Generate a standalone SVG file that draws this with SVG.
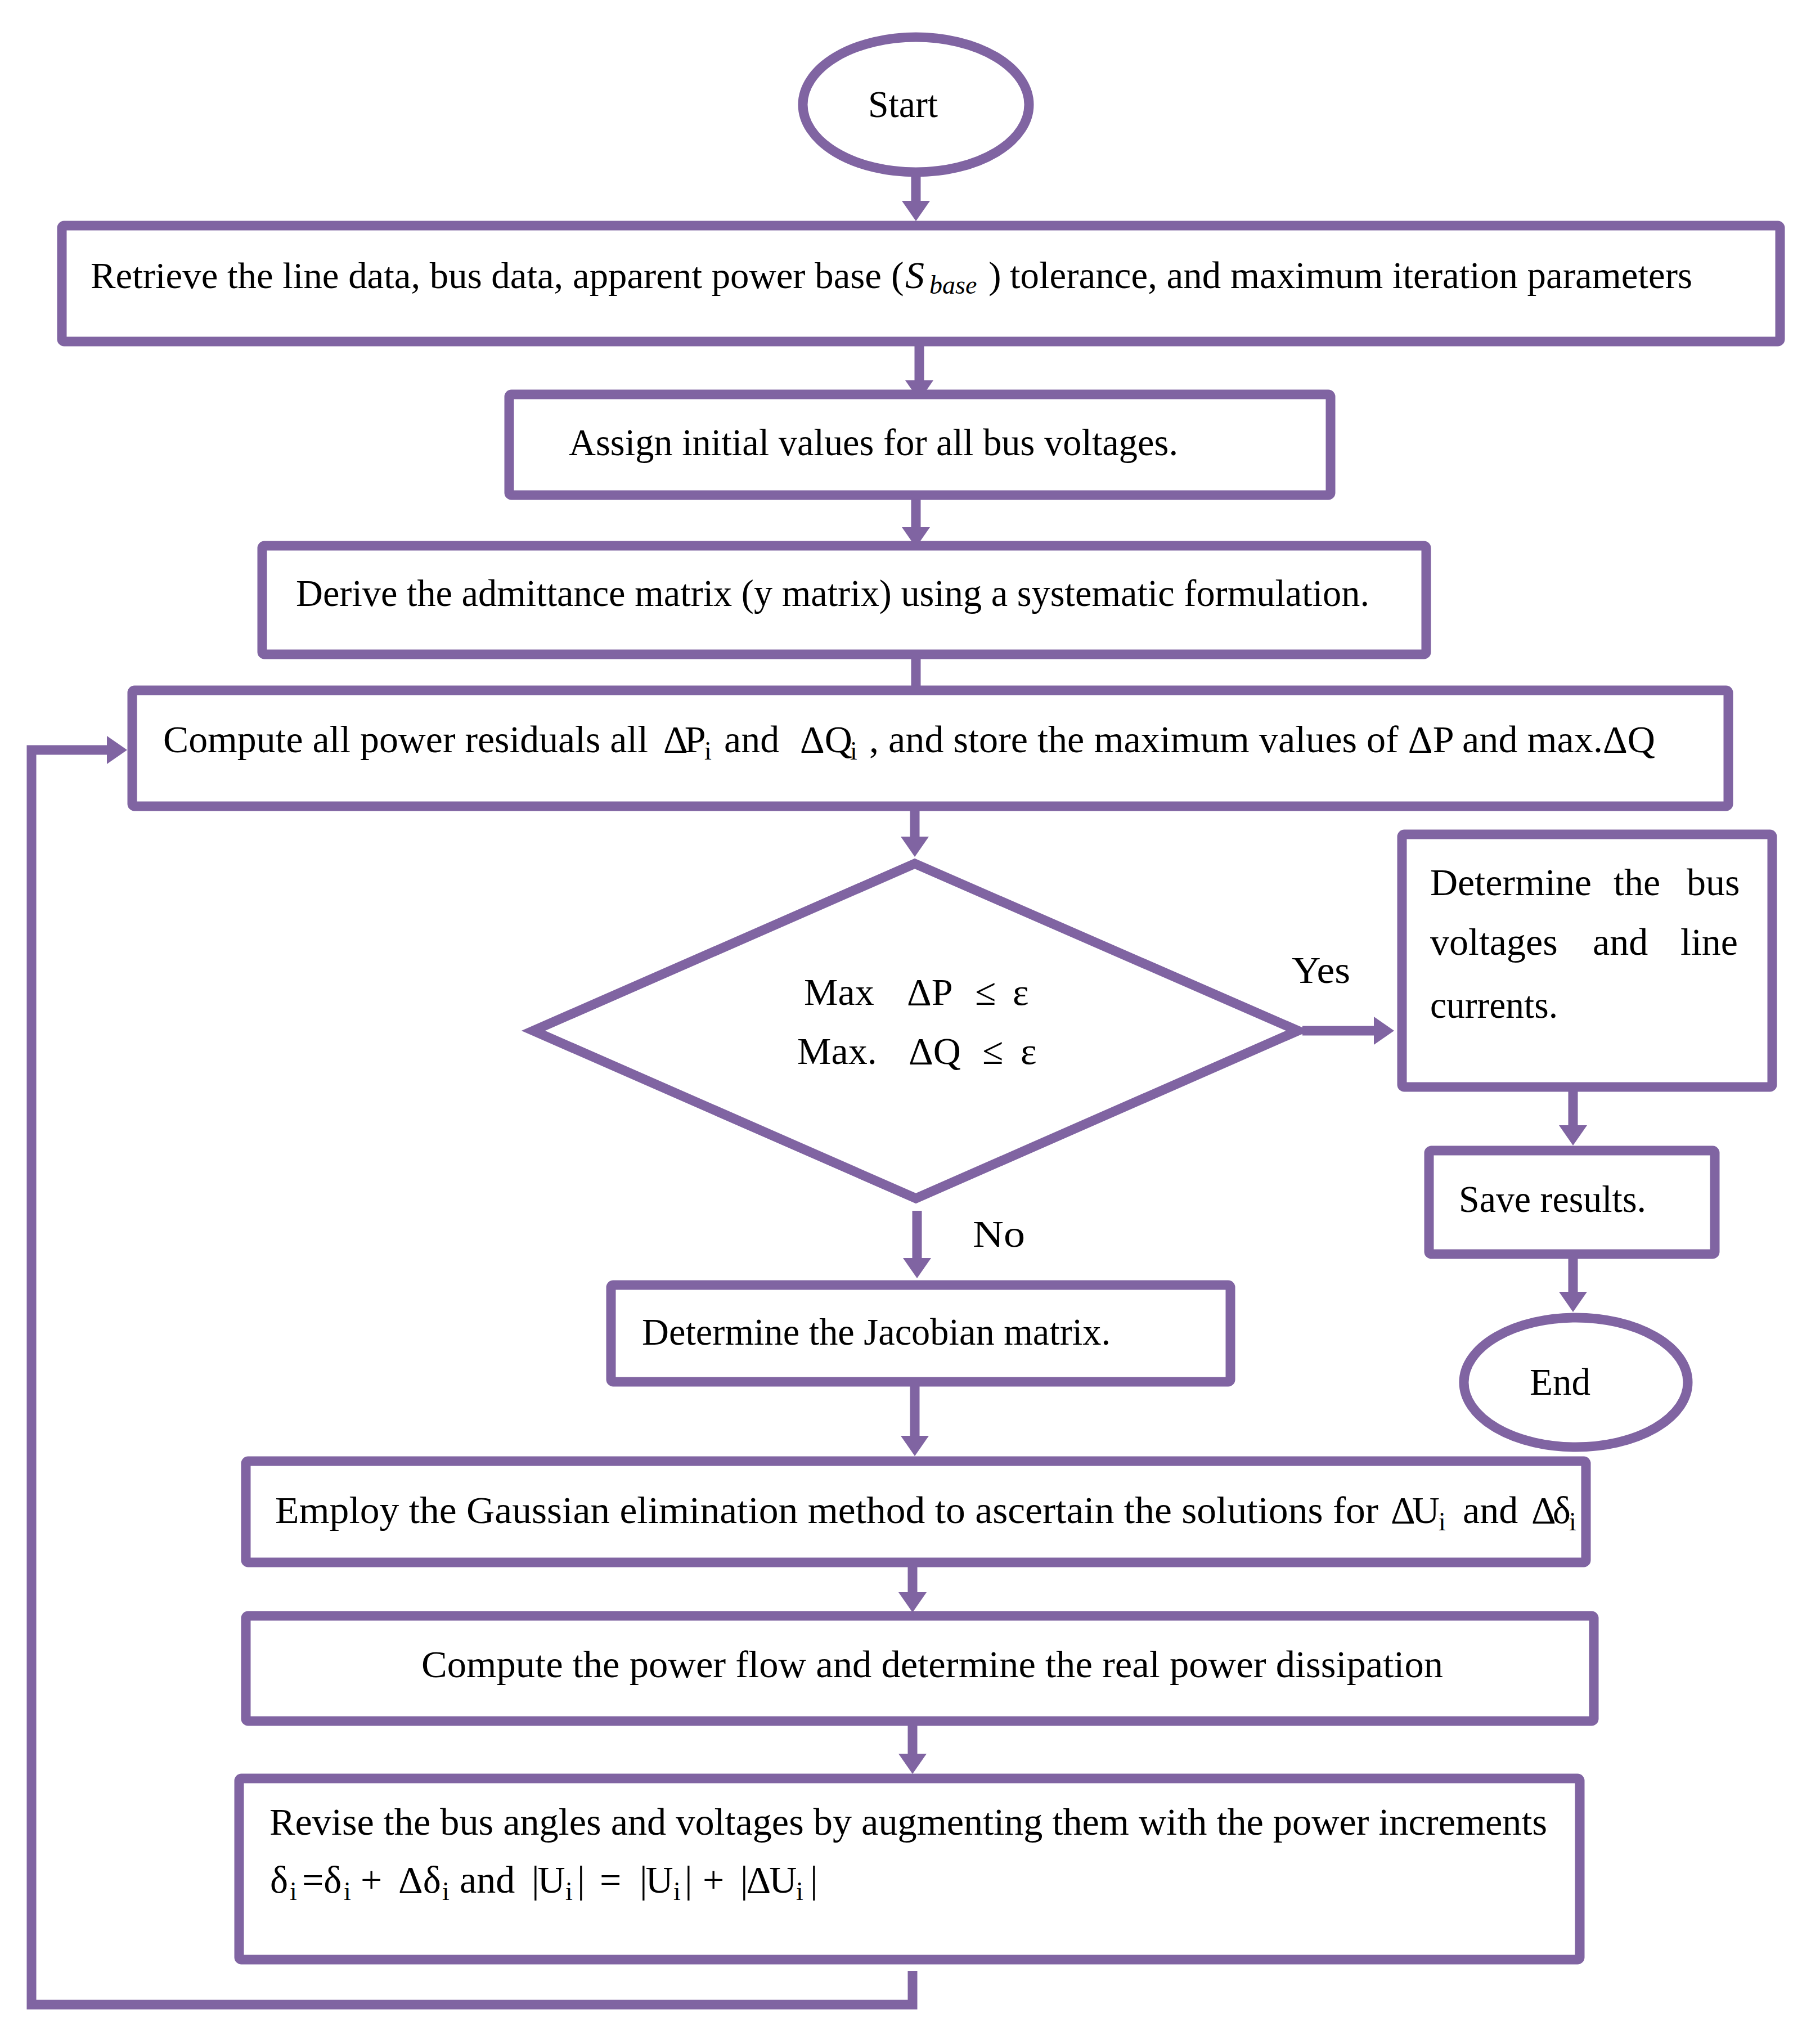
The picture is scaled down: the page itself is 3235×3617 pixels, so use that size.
<svg xmlns="http://www.w3.org/2000/svg" width="3235" height="3617" viewBox="0 0 3235 3617">
<defs>
<style>
.box{fill:#ffffff;stroke:#8064A2;stroke-width:17;}
.term{fill:#ffffff;stroke:#8064A2;stroke-width:17;}
.con{fill:none;stroke:#8064A2;stroke-width:17;stroke-linejoin:miter;}
.t{font-family:"Liberation Serif","Times New Roman",serif;font-size:68px;fill:#000000;}
.s{font-size:46px;}
.i{font-style:italic;}
.c{letter-spacing:-6px;}
.c2{letter-spacing:-3px;}
.n{font-size:65px;}
</style>
<marker id="ah" markerUnits="userSpaceOnUse" viewBox="0 0 36 50" refX="0" refY="25" markerWidth="36" markerHeight="50" orient="auto">
<path d="M0,0 L36,25 L0,50 Z" fill="#8064A2"/>
</marker>
</defs>
<rect width="3235" height="3617" fill="#ffffff"/>

<g id="connectors">
<path class="con" d="M1628,306 L1628,357" marker-end="url(#ah)"/>
<path class="con" d="M1634,607 L1634,676" marker-end="url(#ah)"/>
<path class="con" d="M1628,880 L1628,937" marker-end="url(#ah)"/>
<path class="con" d="M1628,1163 L1628,1227"/>
<path class="con" d="M1626,1433 L1626,1487" marker-end="url(#ah)"/>
<path class="con" d="M2315,1832 L2442,1832" marker-end="url(#ah)"/>
<path class="con" d="M2796,1932 L2796,2000" marker-end="url(#ah)"/>
<path class="con" d="M2796,2229 L2796,2296" marker-end="url(#ah)"/>
<path class="con" d="M1630,2152 L1630,2236" marker-end="url(#ah)"/>
<path class="con" d="M1626,2456 L1626,2552" marker-end="url(#ah)"/>
<path class="con" d="M1622,2770 L1622,2830" marker-end="url(#ah)"/>
<path class="con" d="M1622,3059 L1622,3117" marker-end="url(#ah)"/>
<path class="con" d="M1622,3503 L1622,3563 L56,3563 L56,1333 L190,1333" marker-end="url(#ah)"/>
<text class="t" x="2296" y="1747" textLength="104" lengthAdjust="spacingAndGlyphs">Yes</text>
<text class="t" x="1729" y="2216" textLength="93" lengthAdjust="spacingAndGlyphs">No</text>
</g>

<g id="start">
<ellipse class="term" cx="1628" cy="186" rx="201" ry="120"/>
<text class="t" x="1543" y="208" textLength="124" lengthAdjust="spacingAndGlyphs">Start</text>
</g>

<g id="retrieve">
<rect class="box" x="110" y="401" width="3054" height="206" rx="4"/>
<text class="t n" x="161" y="512" textLength="1406" lengthAdjust="spacingAndGlyphs">Retrieve the line data, bus data, apparent power base</text>
<text class="t" x="1584" y="512">(<tspan class="i" x="1609">S</tspan><tspan class="i s" x="1652" dy="10">base</tspan><tspan x="1757" dy="-10">)</tspan></text>
<text class="t" x="1795" y="512" textLength="1213" lengthAdjust="spacingAndGlyphs">tolerance, and maximum iteration parameters</text>
</g>

<g id="assign">
<rect class="box" x="905" y="701" width="1460" height="179" rx="4"/>
<text class="t" x="1011" y="809" textLength="1083" lengthAdjust="spacingAndGlyphs">Assign initial values for all bus voltages.</text>
</g>

<g id="derive">
<rect class="box" x="466" y="970" width="2069" height="193" rx="4"/>
<text class="t" x="526" y="1077" textLength="1908" lengthAdjust="spacingAndGlyphs">Derive the admittance matrix (y matrix) using a systematic formulation.</text>
</g>

<g id="compute-residuals">
<rect class="box" x="235" y="1227" width="2837" height="206" rx="4"/>
<text class="t" x="290" y="1337" textLength="862" lengthAdjust="spacingAndGlyphs">Compute all power residuals all</text>
<text class="t" x="1179" y="1337"><tspan class="c">ΔP</tspan><tspan class="s" x="1252" dy="13">i</tspan><tspan x="1287" dy="-13">and</tspan><tspan x="1422">ΔQ</tspan><tspan class="s" x="1511" dy="13">i</tspan></text>
<text class="t" x="1545" y="1337" textLength="1397" lengthAdjust="spacingAndGlyphs">, and store the maximum values of  ΔP and max.ΔQ</text>
</g>

<g id="decision">
<polygon class="box" points="1626,1535 2307,1832 1628,2130 948,1832"/>
<text class="t" x="1429" y="1786">Max<tspan x="1612">ΔP</tspan><tspan x="1733">≤</tspan><tspan x="1800">ε</tspan></text>
<text class="t" x="1417" y="1891">Max.<tspan x="1615">ΔQ</tspan><tspan x="1746">≤</tspan><tspan x="1814">ε</tspan></text>
</g>

<g id="determine-bus">
<rect class="box" x="2492" y="1483" width="658" height="449" rx="4"/>
<text class="t" x="2542" y="1591">Determine<tspan x="2868">the</tspan><tspan x="2998">bus</tspan></text>
<text class="t" x="2542" y="1697">voltages<tspan x="2831">and</tspan><tspan x="2987">line</tspan></text>
<text class="t" x="2542" y="1809" textLength="227" lengthAdjust="spacingAndGlyphs">currents.</text>
</g>

<g id="save">
<rect class="box" x="2540" y="2045" width="508" height="184" rx="4"/>
<text class="t" x="2593" y="2154" textLength="333" lengthAdjust="spacingAndGlyphs">Save results.</text>
</g>

<g id="end">
<ellipse class="term" cx="2801" cy="2457" rx="199" ry="115"/>
<text class="t" x="2719" y="2479" textLength="108" lengthAdjust="spacingAndGlyphs">End</text>
</g>

<g id="jacobian">
<rect class="box" x="1086" y="2284" width="1101" height="172" rx="4"/>
<text class="t" x="1141" y="2390" textLength="833" lengthAdjust="spacingAndGlyphs">Determine the Jacobian matrix.</text>
</g>

<g id="gaussian">
<rect class="box" x="437" y="2597" width="2382" height="180" rx="4"/>
<text class="t" x="489" y="2707" textLength="1961" lengthAdjust="spacingAndGlyphs">Employ the Gaussian elimination method to ascertain the solutions for</text>
<text class="t" x="2472" y="2707"><tspan class="c">ΔU</tspan><tspan class="s" x="2557" dy="13">i</tspan><tspan x="2600" dy="-13">and</tspan><tspan class="c" x="2722">Δδ</tspan><tspan class="s" x="2789" dy="13">i</tspan></text>
</g>

<g id="power-flow">
<rect class="box" x="437" y="2872" width="2396" height="187" rx="4"/>
<text class="t" x="749" y="2981" textLength="1816" lengthAdjust="spacingAndGlyphs">Compute the power flow and determine the real power dissipation</text>
</g>

<g id="revise">
<rect class="box" x="425" y="3161" width="2383" height="322" rx="4"/>
<text class="t" x="479" y="3261" textLength="2271" lengthAdjust="spacingAndGlyphs">Revise the bus angles and voltages by augmenting them with the power increments</text>
<text class="t" x="480" y="3364">δ<tspan class="s" x="515" dy="13">i</tspan><tspan x="537" dy="-13">=δ</tspan><tspan class="s" x="611" dy="13">i</tspan><tspan x="641" dy="-13">+</tspan><tspan x="708">Δδ</tspan><tspan class="s" x="786" dy="13">i</tspan><tspan x="817" dy="-13">and</tspan><tspan class="c2" x="945">|U</tspan><tspan class="s" x="1005" dy="13">i</tspan><tspan x="1026" dy="-13">|</tspan><tspan x="1066">=</tspan><tspan class="c2" x="1137">|U</tspan><tspan class="s" x="1197" dy="13">i</tspan><tspan x="1217" dy="-13">|</tspan><tspan x="1249">+</tspan><tspan class="c2" x="1316">|ΔU</tspan><tspan class="s" x="1415" dy="13">i</tspan><tspan x="1440" dy="-13">|</tspan></text>
</g>
</svg>
